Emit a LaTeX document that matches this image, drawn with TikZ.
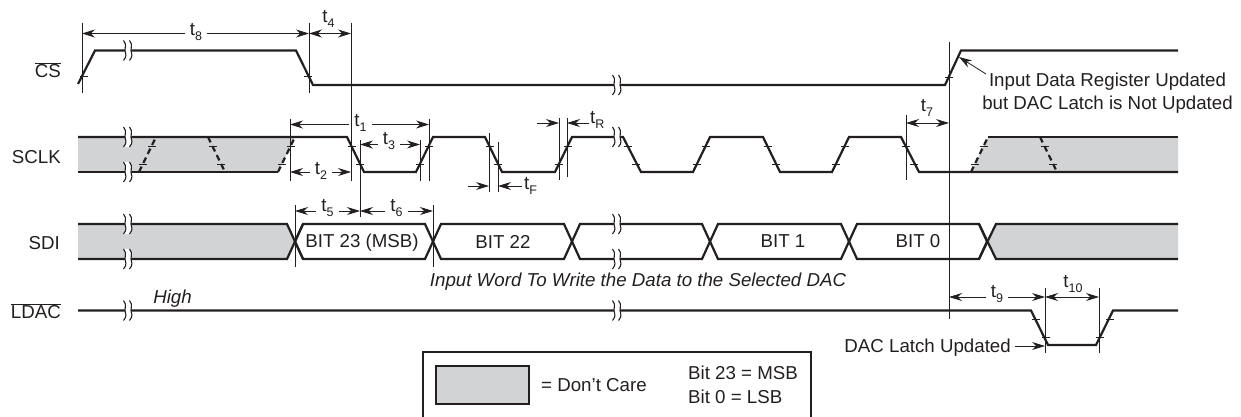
\documentclass[tikz,border=0pt]{standalone}
\usepackage{fontspec}
\setmainfont{Liberation Sans}
\usetikzlibrary{arrows.meta}
\definecolor{ink}{HTML}{231F20}
\definecolor{dontcare}{HTML}{D1D3D4}
\newcommand{\tsub}[1]{t\raisebox{-5pt}{\fontsize{12.5}{13}\selectfont #1}}
\tikzset{
	every node/.style={font=\fontsize{18.7}{23.5}\selectfont, text=ink, inner sep=0pt},
	wave/.style={line width=2.2pt, draw=ink},
	wavedash/.style={line width=2.2pt, draw=ink, dash pattern=on 6pt off 4pt},
	refline/.style={line width=0.8pt, draw=ink},
	tickmark/.style={line width=0.8pt, draw=ink},
	dimline/.style={line width=0.8pt, draw=ink, >={Stealth[length=13pt,width=8pt]}},
	dimlabel/.style={fill=white, inner xsep=5pt},
	wavebreak/.pic={
		\fill[white] (-4.5,-10) .. controls (-0.5,-5) and (-4,-3) .. (-3,0) .. controls (-2,3) and (-1,6) .. (-4.5,10)
			-- (1.5,10) .. controls (5,6) and (4,3) .. (3,0) .. controls (2,-3) and (5.5,-5) .. (1.5,-10) -- cycle;
		\draw[line width=1.1pt,draw=ink] (-4.5,-10) .. controls (-0.5,-5) and (-4,-3) .. (-3,0) .. controls (-2,3) and (-1,6) .. (-4.5,10);
		\draw[line width=1.1pt,draw=ink] (1.5,-10) .. controls (5.5,-5) and (2,-3) .. (3,0) .. controls (4,3) and (5,6) .. (1.5,10);
	},
}
\begin{document}
\begin{tikzpicture}[x=1pt,y=-1pt]
	\useasboundingbox (0,0) rectangle (1241,417);

	% don't care areas
	\fill[dontcare] (78,137) -- (295,137) -- (278,172) -- (78,172) -- cycle;
	\fill[dontcare] (971,172) -- (988,137) -- (1178,137) -- (1178,172) -- cycle;
	\fill[dontcare] (78,224) -- (287,224) -- (295,241.5) -- (287,259) -- (78,259) -- cycle;
	\fill[dontcare] (987,241.5) -- (996,224) -- (1178,224) -- (1178,259) -- (996,259) -- cycle;

	% timing arrows
	\coordinate (t8l) at (82,33.5);
	\coordinate (t8r) at (309,33.5);
	\coordinate (t4r) at (351,33.5);
	\coordinate (t1l) at (290,124.5);
	\coordinate (t1r) at (429,124.5);
	\coordinate (t3l) at (360,144.5);
	\coordinate (t3r) at (420,144.5);
	\coordinate (t2l) at (290,172);
	\coordinate (t2r) at (351,172);
	\coordinate (t5l) at (295,211);
	\coordinate (t5r) at (360,211);
	\coordinate (t6r) at (433,211);
	\coordinate (t7l) at (906,123);
	\coordinate (t7r) at (949,123);
	\coordinate (t9l) at (949,297);
	\coordinate (t9r) at (1045,297);
	\coordinate (t10r) at (1099,297);
	\coordinate (tFa) at (468,186);
	\coordinate (tFb) at (489,186);
	\coordinate (tFc) at (522,186);
	\coordinate (tFd) at (498,186);
	\coordinate (tRa) at (537,123);
	\coordinate (tRb) at (559,123);
	\coordinate (tRc) at (589,123);
	\coordinate (tRd) at (567,123);
	\draw[dimline,<->] (t8l) -- (t8r);
	\draw[dimline,<->] (t8r) -- (t4r);
	\draw[dimline,<->] (t1l) -- (t1r);
	\draw[dimline,<->] (t3l) -- (t3r);
	\draw[dimline,<->] (t2l) -- (t2r);
	\draw[dimline,<->] (t5l) -- (t5r);
	\draw[dimline,<->] (t5r) -- (t6r);
	\draw[dimline,<->] (t7l) -- (t7r);
	\draw[dimline,<->] (t9l) -- (t9r);
	\draw[dimline,<->] (t9r) -- (t10r);
	\draw[dimline,->] (tFa) -- (tFb);
	\draw[dimline,->] (tFc) -- (tFd);
	\draw[dimline,->] (tRa) -- (tRb);
	\draw[dimline,->] (tRc) -- (tRd);

	\node (t8) at (196,32.5) [dimlabel] {\tsub{8}};
	\node (t4) at (328.5,19) [] {\tsub{4}};
	\node (t1) at (360.5,122.5) [dimlabel] {\tsub{1}};
	\node (t3) at (389,141.5) [dimlabel] {\tsub{3}};
	\node (t2) at (321,170.5) [dimlabel] {\tsub{2}};
	\node (t5) at (327.5,208) [dimlabel] {\tsub{5}};
	\node (t6) at (396.5,208) [dimlabel] {\tsub{6}};
	\node (t7) at (927,108) [] {\tsub{7}};
	\node (t9) at (997,294) [dimlabel] {\tsub{9}};
	\node (t10) at (1073,284) [] {\tsub{10}};
	\node (tF) at (524,186) [anchor=west] {\tsub{F}};
	\node (tR) at (590,120) [anchor=west] {\tsub{R}};

	% reference lines
	\draw[refline] (82,23) -- (82,93);
	\draw[refline] (309,23) -- (309,93);
	\draw[refline] (351,23) -- (351,181);
	\draw[refline] (360,140) -- (360,217);
	\draw[refline] (290,119) -- (290,181);
	\draw[refline] (420,140) -- (420,181);
	\draw[refline] (429,119) -- (429,181);
	\draw[refline] (489,133) -- (489,192);
	\draw[refline] (498,142) -- (498,192);
	\draw[refline] (559,118) -- (559,180);
	\draw[refline] (567,118) -- (567,177);
	\draw[refline] (906,115) -- (906,180);
	\draw[refline] (949,42) -- (949,319);
	\draw[refline] (295,205) -- (295,267);
	\draw[refline] (433,205) -- (433,267);
	\draw[refline] (1045,288) -- (1045,353);
	\draw[refline] (1099,288) -- (1099,353);

	% CS
	\draw[wave] (78,84) -- (95,50.5) -- (296,50.5) -- (313,85) -- (945,85) -- (961,50.5) -- (1178,50.5);
	% SCLK
	\draw[wave] (78,137) -- (347,137) -- (364,172) -- (416,172) -- (433,137) -- (485,137) -- (502,172)
		-- (555,172) -- (572,137) -- (623,137) -- (641,172) -- (693,172) -- (710,137) -- (763,137)
		-- (780,172) -- (832,172) -- (849,137) -- (901,137) -- (919,172) -- (1178,172);
	\draw[wave] (78,172) -- (278,172);
	\draw[wave] (988,137) -- (1178,137);
	\draw[wavedash] (278,172) -- (295,137);
	\draw[wavedash] (139,172) -- (156,137);
	\draw[wavedash] (208,137) -- (225,172);
	\draw[wavedash] (971,172) -- (988,137);
	\draw[wavedash] (1040,137) -- (1057,172);
	% SDI
	\draw[wave] (78,224) -- (287,224) -- (303,259);
	\draw[wave] (78,259) -- (287,259) -- (303,224);
	\foreach \a/\b in {295/433,433/572,572/710,710/849,849/987}
		\draw[wave] (\a,241.5) -- (\a+8,224) -- (\b-8,224) -- (\b,241.5) -- (\b-8,259) -- (\a+8,259) -- cycle;
	\draw[wave] (979,259) -- (996,224) -- (1178,224);
	\draw[wave] (979,224) -- (996,259) -- (1178,259);
	% LDAC
	\draw[wave] (78,310.5) -- (1031,310.5) -- (1048,345) -- (1096,345) -- (1113,310.5) -- (1178,310.5);

	% threshold ticks
	\foreach \x in {347,485,623,763,901,208,1040} {
		\draw[tickmark] (\x+0.5,146) -- (\x+8.5,146);
		\draw[tickmark] (\x+9,164) -- (\x+17,164);
	}
	\foreach \x in {416,555,693,832,139,278,971} {
		\draw[tickmark] (\x,164) -- (\x+8,164);
		\draw[tickmark] (\x+9,146) -- (\x+17,146);
	}
	\foreach \x/\y in {83.5/76,308/76,949/77,1036/319,1045.5/337,1100/337,1110/319}
		\draw[tickmark] (\x-4,\y) -- (\x+4,\y);

	% breaks
	\foreach \x/\y in {128/50.5,617/85,128/137,128/172,617/137,128/224,128/259,617/224,617/259,128/310.5,617/310.5}
		\pic at (\x,\y) {wavebreak};

	% signal names
	\node (CS) at (61,70.5) [anchor=east] {$\overline{\hbox{CS}}$};
	\node (SCLK) at (61,157) [anchor=east] {SCLK};
	\node (SDI) at (60,243) [anchor=east] {SDI};
	\node (LDAC) at (61,311.5) [anchor=east] {$\overline{\hbox{LDAC}}$};

	% notes
	\node (note) at (1107.5,93) [align=center] {Input Data Register Updated\\but DAC Latch is Not Updated};
	\coordinate (notestart) at (986,74);
	\coordinate (noteend) at (959,57);
	\draw[dimline,->] (notestart) -- (noteend);
	\node (latch) at (1011,348) [anchor=east] {DAC Latch Updated};
	\coordinate (latchstart) at (1015,346);
	\coordinate (latchend) at (1045,346);
	\draw[dimline,->] (latchstart) -- (latchend);
	\node (high) at (172.5,298.5) [font=\fontsize{18.7}{23.5}\selectfont\itshape] {High};
	\node (word) at (638,282) [font=\fontsize{18.7}{23.5}\selectfont\itshape] {Input Word To Write the Data to the Selected DAC};

	% bits
	\node (b23) at (362,243) {BIT 23 (MSB)};
	\node (b22) at (503,241.5) {BIT 22};
	\node (b1) at (783,241.5) {BIT 1};
	\node (b0) at (918,241.5) {BIT 0};

	% legend
	\draw[wave] (423,420) -- (423,352) -- (811,352) -- (811,420);
	\filldraw[wave,fill=dontcare] (436,366) rectangle (529,404);
	\node (care) at (541,385) [anchor=west] {= Don’t Care};
	\node (msb) at (688,385) [anchor=west,align=left] {Bit 23 = MSB\\Bit 0 = LSB};
\end{tikzpicture}
\end{document}
